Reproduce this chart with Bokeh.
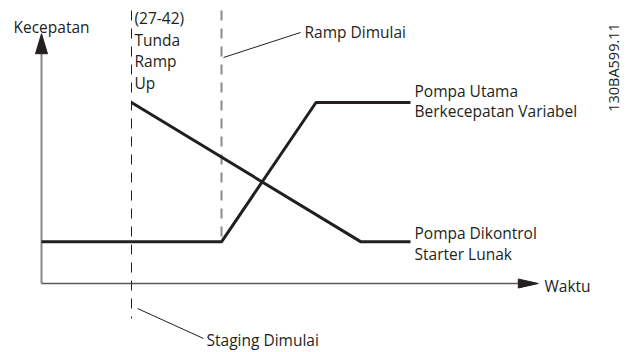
from bokeh.plotting import figure
from bokeh.models import Range1d, Label
from bokeh.embed import file_html
from bokeh.resources import INLINE

# ---- data (time in arbitrary units, speed in % of full) ----
staging_start = 10.0      # Staging Dimulai
ramp_start = 20.0         # Ramp Dimulai
ramp_end = 30.5
soft_end = 35.5
series_end = 41.0

low_speed = 23.0
high_speed = 100.0

variable_pump_t = [0.0, ramp_start, ramp_end, series_end]
variable_pump_v = [low_speed, low_speed, high_speed, high_speed]

soft_pump_t = [staging_start, soft_end, series_end]
soft_pump_v = [high_speed, low_speed, low_speed]

x_axis_end = 55.2
y_axis_end = 138.0

# ---- layout helpers (page pixel -> data) ----
PX_PER_T = 9.0
PX_PER_V = 1.81
ORIG_X, ORIG_Y = 41.0, 283.0
def tx(px):
    return (px - ORIG_X) / PX_PER_T
def vy(py):
    return (ORIG_Y - py) / PX_PER_V

W, H = 626, 352
p = figure(width=W, height=H, output_backend="svg", toolbar_location=None,
           x_range=Range1d(tx(0), tx(W)), y_range=Range1d(vy(H), vy(0)),
           x_axis_location=None, y_axis_location=None, min_border=0,
           tools="")
p.grid.visible = False
p.outline_line_color = None
p.background_fill_color = "white"

DARK = "#231f20"

# axes
p.line([0, 0], [0, y_axis_end - 20 / PX_PER_V], line_color="#8a8a8a", line_width=2)
p.line([0, x_axis_end - 20 / PX_PER_T], [0, 0], line_color="#5a5a5a", line_width=1.5)
# arrow heads
p.patch([x_axis_end - 20 / PX_PER_T, x_axis_end, x_axis_end - 20 / PX_PER_T],
        [4.5 / PX_PER_V, 0, -4.5 / PX_PER_V], fill_color=DARK, line_color=DARK)
p.patch([-6 / PX_PER_T, 0, 6 / PX_PER_T],
        [y_axis_end - 20 / PX_PER_V, y_axis_end, y_axis_end - 20 / PX_PER_V],
        fill_color=DARK, line_color=DARK)

# dashed event lines
p.line([staging_start, staging_start], [vy(10), vy(318)], line_color=DARK,
       line_width=1, line_dash="10 8")
p.line([ramp_start, ramp_start], [vy(10), low_speed], line_color="#8a8a8a",
       line_width=2, line_dash="10 8")

# leader lines
p.line([tx(137), tx(203)], [vy(308), vy(338)], line_color=DARK, line_width=1)
p.line([tx(223), tx(300)], [vy(57), vy(32)], line_color=DARK, line_width=1)

# series
p.line(variable_pump_t, variable_pump_v, line_color=DARK, line_width=3)
p.line(soft_pump_t, soft_pump_v, line_color=DARK, line_width=3)

FONT = "Open Sans"
FS = "15.5px"
def lab(text, px, py, **kw):
    opts = dict(text_font=FONT, text_font_size=FS, text_color=DARK,
                text_baseline="middle", text_align="left")
    opts.update(kw)
    p.add_layout(Label(x=tx(px), y=vy(py), text=text, **opts))

lab("Kecepatan", 13, 26)
lab("(27-42)", 134, 17)
lab("Tunda", 134, 39)
lab("Ramp", 134, 60.5)
lab("Up", 134, 82)
lab("Ramp  Dimulai", 304, 31)
lab("Pompa Utama", 414, 90)
lab("Berkecepatan Variabel", 414, 110)
lab("Pompa Dikontrol", 414, 232)
lab("Starter Lunak", 414, 253)
lab("Waktu", 544, 285)
lab("Staging Dimulai", 206, 339)
lab("130BA599.11", 613, 67, angle=90, angle_units="deg", text_align="center",
    text_font_size="14.5px")

open("out.html", "w").write(file_html(p, INLINE))
